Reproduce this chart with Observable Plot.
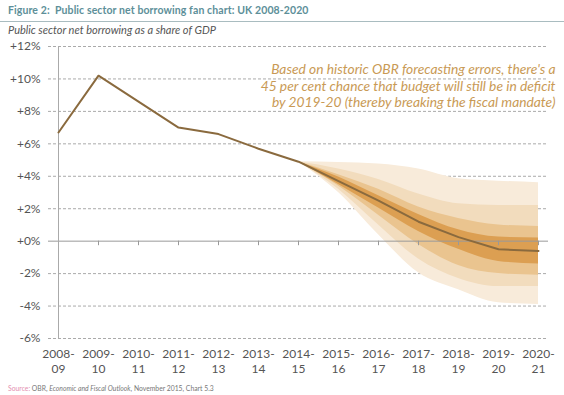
<!DOCTYPE html>
<html><head><meta charset="utf-8">
<script src="https://cdn.jsdelivr.net/npm/d3@7"></script>
<script src="https://cdn.jsdelivr.net/npm/@observablehq/plot@0.6"></script>
<style>
body{margin:0;background:#fff;width:564px;height:395px;overflow:hidden;font-family:Lato,"Open Sans",sans-serif}
#head{position:relative;height:37px}
#title{position:absolute;left:8px;top:4px;font-size:10.5px;font-weight:bold;color:#5d8f99;letter-spacing:0.1px}
#rule{position:absolute;left:0;right:0;top:21px;border-top:1.5px solid #a9bcc0}
#sub{position:absolute;left:8px;top:23px;font-size:11px;font-style:italic;color:#555}
#src{position:relative;font-size:6.8px;color:#777;margin-left:8px;margin-top:2px}
#src .s{color:#e48fb0}
</style></head>
<body>
<div id="head"><div id="title"></div><div id="rule"></div><div id="sub"></div></div>
<div id="chart"></div>
<div id="src"></div>
<script>
const titleText = "Figure 2:\u00a0 Public sector net borrowing fan chart: UK 2008-2020";
const subtitleText = "Public sector net borrowing as a share of GDP";
const sourceLabel = "Source:";
const sourceText = " OBR, <i>Economic and Fiscal Outlook</i>, November 2015, Chart 5.3";
const annotationLines = [
  "Based on historic OBR forecasting errors, there's a",
  "45 per cent chance that budget will still be in deficit",
  "by 2019-20 (thereby breaking the fiscal mandate)"
];

const years = ["2008-09","2009-10","2010-11","2011-12","2012-13","2013-14","2014-15","2015-16","2016-17","2017-18","2018-19","2019-20","2020-21"];
const borrowing = [6.7, 10.2, 8.6, 7.0, 6.6, 5.7, 4.9, 3.7, 2.5, 1.2, 0.25, -0.5, -0.6];
const yTicks = [-6,-4,-2,0,2,4,6,8,10,12];

const fanYears = ["2014-15","2015-16","2016-17","2017-18","2018-19","2019-20","2020-21"];
const outerLo  = [4.9, 3.0, 0.4, -1.95, -3.0, -3.8, -3.9];
const outerHi  = [4.9, 4.85, 4.75, 4.45, 3.85, 3.7, 3.6];
const lightLo  = [4.9, 3.2, 1.0, -1.1, -2.3, -2.8, -2.8];
const lightHi  = [4.9, 4.45, 3.8, 2.9, 2.3, 2.2, 2.2];
const mediumLo = [4.9, 3.4, 1.6, -0.2, -1.5, -2.0, -2.1];
const mediumHi = [4.9, 4.1, 3.2, 2.1, 1.4, 1.0, 0.9];
const darkLo   = [4.9, 3.5, 2.05, 0.6, -0.5, -1.25, -1.4];
const darkHi   = [4.9, 3.95, 2.8, 1.65, 0.7, 0.25, 0.2];

document.getElementById("title").textContent = titleText;
document.getElementById("sub").textContent = subtitleText;
document.getElementById("src").innerHTML = `<span class="s">${sourceLabel}</span>${sourceText}`;

const series = years.map((x, i) => ({x, y: borrowing[i]}));
const fan = fanYears.map((x, i) => ({x, oLo: outerLo[i], oHi: outerHi[i], lLo: lightLo[i], lHi: lightHi[i], mLo: mediumLo[i], mHi: mediumHi[i], dLo: darkLo[i], dHi: darkHi[i]}));

const curve = "monotone-x";
const chart = Plot.plot({
  width: 564,
  height: 345,
  marginLeft: 48,
  marginRight: 16,
  marginTop: 9,
  marginBottom: 44,
  insetLeft: 4,
  insetRight: 5,
  style: {fontFamily: "Lato, 'Open Sans', sans-serif", background: "#fff"},
  x: {type: "point", domain: years, padding: 0, label: null},
  y: {domain: [-6, 12], label: null},
  marks: [
    Plot.ruleY(yTicks.filter(d => d !== 0), {stroke: "#aaa", strokeDasharray: "3,2", strokeWidth: 1}),
    Plot.areaY(fan, {x: "x", y1: "oLo", y2: "oHi", fill: "#f8ebda", curve}),
    Plot.areaY(fan, {x: "x", y1: "lLo", y2: "lHi", fill: "#f2dcbd", curve}),
    Plot.areaY(fan, {x: "x", y1: "mLo", y2: "mHi", fill: "#eac48f", curve}),
    Plot.areaY(fan, {x: "x", y1: "dLo", y2: "dHi", fill: "#dc9f52", curve}),
    Plot.ruleY([0], {stroke: "#999", strokeWidth: 1}),
    Plot.ruleX(years, {x: d => d, y1: 0, y2: -0.28, stroke: "#999"}),
    Plot.ruleX([years[0]], {y1: -6, y2: 12, stroke: "#aaa", strokeWidth: 1}),
    Plot.line(series, {x: "x", y: "y", stroke: "#8a6a3e", strokeWidth: 2}),
    Plot.axisY({ticks: yTicks, tickSize: 0, tickPadding: 8, fontSize: 12, fill: "#555", label: null,
      tickFormat: d => (d >= 0 ? "+" : "") + d + "%"}),
    Plot.axisX({tickSize: 0, tickPadding: 9, fontSize: 12, fill: "#555", lineHeight: 1.25, label: null,
      tickFormat: d => d.replace("-", "-\n")}),
    Plot.text([annotationLines.join("\n")], {frameAnchor: "top-right", dx: 7, dy: 15, fontSize: 13.8,
      fontStyle: "italic", fill: "#c99a55", lineHeight: 1.23, textAnchor: "end"})
  ]
});
document.getElementById("chart").appendChild(chart);
</script>
</body></html>
